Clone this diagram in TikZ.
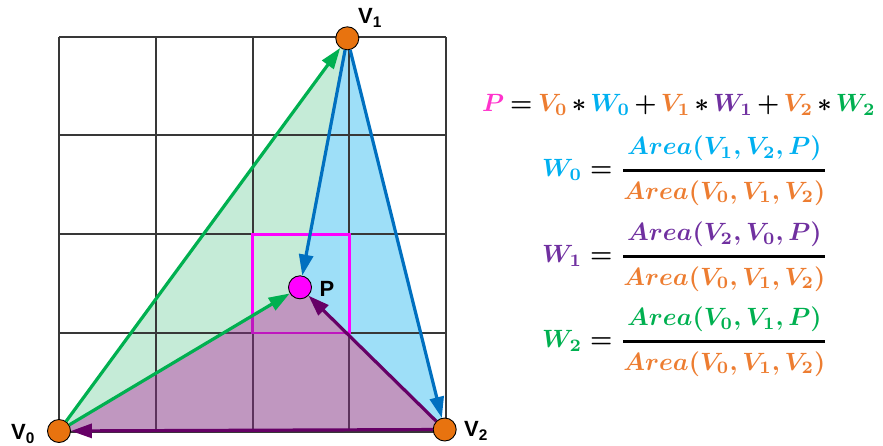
\documentclass[tikz,border=0pt]{standalone}
\usepackage{amsmath}
\usepackage{fontspec}
\usepackage{graphicx}
\usetikzlibrary{arrows.meta}
\newfontfamily\lblfont{Liberation Sans}
\definecolor{vorange}{HTML}{ED7D31}
\definecolor{circorange}{HTML}{E8730F}
\definecolor{wblue}{HTML}{00B0F0}
\definecolor{wpurple}{HTML}{7030A0}
\definecolor{wgreen}{HTML}{00B050}
\definecolor{ppink}{HTML}{FF33CC}
\definecolor{pmag}{HTML}{FF00FF}
\definecolor{arrowblue}{HTML}{0070C0}
\definecolor{arrowgreen}{HTML}{00B050}
\definecolor{arrowpurple}{HTML}{660066}
\definecolor{fillgreen}{HTML}{C5EBD7}
\definecolor{fillblue}{HTML}{9EDFF8}
\definecolor{fillpurple}{HTML}{812F81}
\tikzset{
  gridline/.style={draw=black!78, line width=1.5pt},
  magbox/.style={draw=pmag, line width=2.8pt},
  vertex/.style={circle, fill=circorange, draw=black, line width=0.9pt, minimum size=23pt, inner sep=0pt},
  pvertex/.style={circle, fill=pmag, draw=black, line width=0.9pt, minimum size=23pt, inner sep=0pt},
  vec/.style={line width=3.2pt, -{Triangle[length=21pt,width=14pt]}},
  vlabel/.style={font=\lblfont\bfseries\fontsize{22}{26}\selectfont, inner sep=0pt},
  eqn/.style={inner sep=0pt}
}
\newcommand{\eqsc}[1]{\scalebox{2.5}{\boldmath$#1$}}
\newcommand{\eqscn}[1]{\scalebox{2.5}{\boldmath\medmuskip=2.6mu\thickmuskip=3.6mu$#1$}}
\newcommand{\bfrac}[2]{\genfrac{}{}{1.1pt}{0}{#1}{#2}}
\begin{document}
\begin{tikzpicture}[x=1pt,y=-1pt]
\useasboundingbox (0,0) rectangle (883,445);
\coordinate (c0) at (59,431);
\coordinate (c1) at (347.3,38.3);
\coordinate (c2) at (444.7,429.5);
\coordinate (cp) at (300,287.3);
% fills (green, blue)
\fill[fillgreen] (c0) -- (c1) -- (cp) -- cycle;
\fill[fillblue] (c1) -- (c2) -- (cp) -- cycle;
% grid
\foreach \x in {59,156,253,349,446} \draw[gridline] (\x,37) -- (\x,432);
\foreach \y in {37,135,234,333,432} \draw[gridline] (59,\y) -- (446,\y);
% magenta box
\draw[magbox] (252.5,234.3) rectangle (349.5,333);
% translucent purple fill
\fill[fillpurple, fill opacity=0.5] (c0) -- (c2) -- (cp) -- cycle;
% vertices
\node[vertex] (v0) at (c0) {};
\node[vertex] (v1) at (c1) {};
\node[vertex] (v2) at (c2) {};
\node[pvertex] (p) at (cp) {};
% vectors
\draw[vec, arrowgreen] (v0) -- (v1);
\draw[vec, arrowgreen] (v0) -- (p);
\draw[vec, arrowblue] (v1) -- (p);
\draw[vec, arrowblue] (v1) -- (v2);
\draw[vec, arrowpurple] (v2) -- (v0);
\draw[vec, arrowpurple] (v2) -- (p);
% labels
\node[vlabel] (l1) at (370,18) {V\textsubscript{1}};
\node[vlabel] (l0) at (23,434) {V\textsubscript{0}};
\node[vlabel] (l2) at (476,431) {V\textsubscript{2}};
\node[vlabel] (lp) at (327,289) {P};
% equations
\node[eqn, anchor=base west] (e0) at (482,111.7) {\eqscn{\textcolor{ppink}{P} = \textcolor{vorange}{V_0} \ast \textcolor{wblue}{W_0} + \textcolor{vorange}{V_1} \ast \textcolor{wpurple}{W_1} + \textcolor{vorange}{V_2} \ast \textcolor{wgreen}{W_2}}};
\node[eqn, anchor=west] (e1) at (542,170.7) {\eqsc{\textcolor{wblue}{W_0} = \bfrac{\textcolor{wblue}{Area(V_1,V_2,P)}}{\textcolor{vorange}{Area(V_0,V_1,V_2)}}}};
\node[eqn, anchor=west] (e2) at (542,256.7) {\eqsc{\textcolor{wpurple}{W_1} = \bfrac{\textcolor{wpurple}{Area(V_2,V_0,P)}}{\textcolor{vorange}{Area(V_0,V_1,V_2)}}}};
\node[eqn, anchor=west] (e3) at (542,341.7) {\eqsc{\textcolor{wgreen}{W_2} = \bfrac{\textcolor{wgreen}{Area(V_0,V_1,P)}}{\textcolor{vorange}{Area(V_0,V_1,V_2)}}}};
\end{tikzpicture}
\end{document}
